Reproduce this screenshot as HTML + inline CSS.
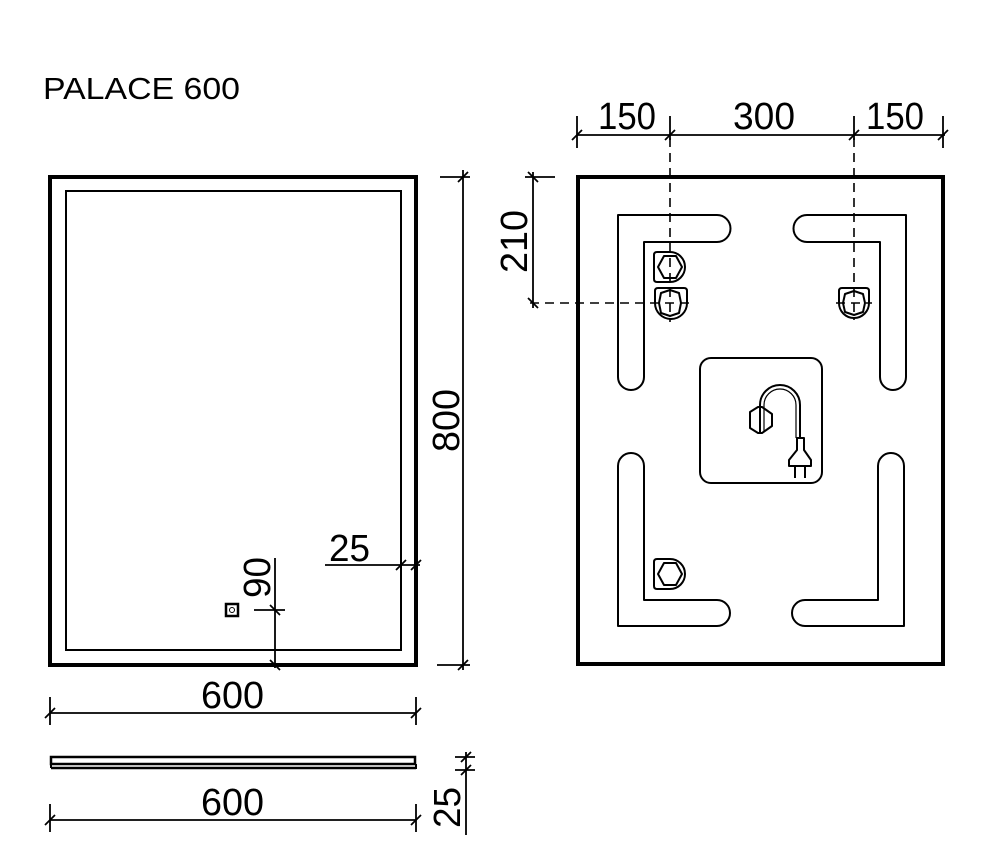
<!DOCTYPE html>
<html><head><meta charset="utf-8"><style>
html,body{margin:0;padding:0;background:#fff;}
svg{display:block;}
text{font-family:"Liberation Sans",sans-serif;fill:#000;}
</style></head><body>
<svg width="1002" height="852" viewBox="0 0 1002 852" xmlns="http://www.w3.org/2000/svg">
<g fill="none" stroke="#000">
<rect x="50" y="177" width="366" height="488" stroke-width="4"/>
<rect x="66" y="191" width="335" height="459" stroke-width="2"/>
<rect x="226" y="604" width="12" height="12" stroke-width="2.5"/>
<circle cx="232" cy="610" r="2.5" stroke-width="1"/>
<g stroke-width="1.8">
<line x1="463" y1="170" x2="463" y2="670"/>
<line x1="440" y1="177" x2="470" y2="177"/>
<line x1="437" y1="665" x2="470" y2="665"/>
<line x1="458" y1="182" x2="468" y2="172"/>
<line x1="458" y1="670" x2="468" y2="660"/>
<line x1="325" y1="565" x2="420" y2="565"/>
<line x1="396" y1="570" x2="406" y2="560"/>
<line x1="411" y1="570" x2="421" y2="560"/>
<line x1="275" y1="558" x2="275" y2="668"/>
<line x1="254" y1="610" x2="285" y2="610"/>
<line x1="270" y1="605" x2="280" y2="615"/>
<line x1="270" y1="660" x2="280" y2="670"/>
<line x1="50" y1="713" x2="416" y2="713"/>
<line x1="50" y1="697" x2="50" y2="725"/>
<line x1="416" y1="697" x2="416" y2="725"/>
<line x1="45" y1="718" x2="55" y2="708"/>
<line x1="411" y1="718" x2="421" y2="708"/>
<line x1="50" y1="820" x2="416" y2="820"/>
<line x1="50" y1="804" x2="50" y2="832"/>
<line x1="416" y1="804" x2="416" y2="832"/>
<line x1="45" y1="825" x2="55" y2="815"/>
<line x1="411" y1="825" x2="421" y2="815"/>
<line x1="466" y1="752" x2="466" y2="835"/>
<line x1="455" y1="757" x2="475" y2="757"/>
<line x1="455" y1="770" x2="475" y2="770"/>
<line x1="461" y1="762" x2="471" y2="752"/>
<line x1="461" y1="775" x2="471" y2="765"/>
</g>
<rect x="51" y="757" width="364" height="7" stroke-width="2.5"/>
<line x1="51" y1="768" x2="416" y2="768" stroke-width="2.5"/>
<line x1="51" y1="764" x2="51" y2="768" stroke-width="2"/>
<line x1="416" y1="764" x2="416" y2="769" stroke-width="2"/>

<rect x="578" y="177" width="365" height="487" stroke-width="4"/>
<g stroke-width="2" stroke-linejoin="round">
<path d="M618,215 H717 A13.5,13.5 0 0 1 717,242 H644 V377 A13,13 0 0 1 618,377 Z"/>
<path d="M906,215 H807 A13.5,13.5 0 0 0 807,242 H880 V377 A13,13 0 0 0 906,377 Z"/>
<path d="M618,626 H717 A13,13 0 0 0 717,600 H644 V466 A13,13 0 0 0 618,466 Z"/>
<path d="M904,626 H805 A13,13 0 0 1 805,600 H878 V466 A13,13 0 0 1 904,466 Z"/>
<rect x="700" y="358" width="122" height="125" rx="11"/>
<path d="M654,255 Q654,252 657,252 H670 A15,15 0 0 1 670,282 H657 Q654,282 654,279 Z"/>
<polygon points="658,267 664,256 676,256 682,267 676,278 664,278"/>
<path d="M655,291 Q655,288 658,288 H684 Q687,288 687,291 V303 A16,16 0 0 1 655,303 Z"/>
<polygon points="659,303 661,293 670,290 679,293 681,303 679,313 670,316 661,313"/>
<path d="M839,291 Q839,288 842,288 H866 Q869,288 869,291 V303 A15,15 0 0 1 839,303 Z"/>
<polygon points="843,303 845,294 854,291 863,294 865,303 863,312 854,315 845,312"/>
<path d="M654,562 Q654,559 657,559 H670 A15,15 0 0 1 670,589 H657 Q654,589 654,586 Z"/>
<polygon points="658,574 664,563 676,563 682,574 676,585 664,585"/>
<path d="M760,432 V405 A20,20 0 0 1 800,405 V438" stroke-width="2"/>
<path d="M764,432 V405 A16,16 0 0 1 796,405 V438" stroke-width="1.2"/>
<polygon points="750,412 758,407 762,407 772,414 772,426 762,433 758,433 750,428"/>
<path d="M797,438 H804 V450 L811,460 V466 H789 V460 L797,450 Z" stroke-width="2"/>
<line x1="795" y1="466" x2="795" y2="478"/>
<line x1="805" y1="466" x2="805" y2="478"/>
</g>
<g stroke-width="1.6" stroke-dasharray="9,6">
<line x1="670" y1="138" x2="670" y2="322"/>
<line x1="854" y1="138" x2="854" y2="320"/>
<line x1="530" y1="303" x2="690" y2="303"/>
<line x1="836" y1="303" x2="872" y2="303"/>
</g>
<g stroke-width="1.8">
<line x1="577" y1="135" x2="945" y2="135"/>
<line x1="577" y1="116" x2="577" y2="148"/>
<line x1="670" y1="116" x2="670" y2="140"/>
<line x1="854" y1="116" x2="854" y2="140"/>
<line x1="943" y1="116" x2="943" y2="148"/>
<line x1="572" y1="140" x2="582" y2="130"/>
<line x1="665" y1="140" x2="675" y2="130"/>
<line x1="849" y1="140" x2="859" y2="130"/>
<line x1="938" y1="140" x2="948" y2="130"/>
<line x1="533" y1="172" x2="533" y2="308"/>
<line x1="525" y1="177" x2="555" y2="177"/>
<line x1="528" y1="172" x2="538" y2="182"/>
<line x1="528" y1="298" x2="538" y2="308"/>
</g>
</g>

<text x="43" y="99" font-size="31" textLength="197" lengthAdjust="spacingAndGlyphs">PALACE 600</text>
<g font-size="38">
<text x="598" y="129" textLength="58" lengthAdjust="spacingAndGlyphs">150</text>
<text x="733" y="129" textLength="62" lengthAdjust="spacingAndGlyphs">300</text>
<text x="866" y="129" textLength="58" lengthAdjust="spacingAndGlyphs">150</text>
<text x="201" y="708" textLength="63" lengthAdjust="spacingAndGlyphs">600</text>
<text x="201" y="815" textLength="63" lengthAdjust="spacingAndGlyphs">600</text>
<text x="329" y="561" textLength="41" lengthAdjust="spacingAndGlyphs">25</text>
<text transform="translate(527,273) rotate(-90)" textLength="63" lengthAdjust="spacingAndGlyphs">210</text>
<text transform="translate(459,452) rotate(-90)" textLength="63" lengthAdjust="spacingAndGlyphs">800</text>
<text transform="translate(270,598) rotate(-90)" textLength="41" lengthAdjust="spacingAndGlyphs">90</text>
<text transform="translate(460,828) rotate(-90)" textLength="41" lengthAdjust="spacingAndGlyphs">25</text>
</g>
</svg>
</body></html>
